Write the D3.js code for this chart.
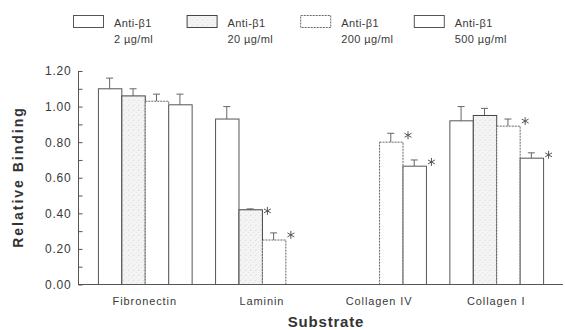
<!DOCTYPE html>
<html>
<head>
<meta charset="utf-8">
<script src="https://cdn.jsdelivr.net/npm/d3@7"></script>
<style>
  body { margin: 0; background: #fff; }
  svg { font-family: "Liberation Sans", Arial, sans-serif; }
</style>
</head>
<body>
<svg id="chart" width="565" height="330"></svg>
<script>
// substrates on the x axis
const categories = ['Fibronectin', 'Laminin', 'Collagen IV', 'Collagen I'];
// antibody doses (legend)
const doses = ['2 µg/ml', '20 µg/ml', '200 µg/ml', '500 µg/ml'];
// relative binding per dose, one entry per substrate (null = not measured)
const dose2 = [1.10, 0.93, null, 0.92];
const dose20 = [1.06, 0.42, null, 0.95];
const dose200 = [1.03, 0.25, 0.80, 0.89];
const dose500 = [1.01, null, 0.665, 0.71];
// upper error bars
const err2 = [0.06, 0.07, null, 0.08];
const err20 = [0.04, 0.005, null, 0.04];
const err200 = [0.04, 0.04, 0.05, 0.04];
const err500 = [0.06, null, 0.035, 0.03];
// significance asterisks
const sig2 = [false, false, false, false];
const sig20 = [false, true, false, false];
const sig200 = [false, true, true, true];
const sig500 = [false, false, true, true];
const yTicks = [0, 0.1, 0.2, 0.3, 0.4, 0.5, 0.6, 0.7, 0.8, 0.9, 1.0, 1.1, 1.2];

const seriesValues = [dose2, dose20, dose200, dose500];
const seriesErr = [err2, err20, err200, err500];
const seriesSig = [sig2, sig20, sig200, sig500];

const svg = d3.select('#chart');
const textColor = '#3a3a3a';
const lineColor = '#555';

// light grain for the 20 µg/ml bars
const defs = svg.append('defs');
const pat = defs.append('pattern')
  .attr('id', 'stipple')
  .attr('width', 5).attr('height', 5)
  .attr('patternUnits', 'userSpaceOnUse');
pat.append('rect').attr('width', 5).attr('height', 5).attr('fill', '#f4f4f4');
pat.append('rect').attr('x', 0).attr('y', 0).attr('width', 1).attr('height', 1).attr('fill', '#dadada');
pat.append('rect').attr('x', 3).attr('y', 2).attr('width', 1).attr('height', 1).attr('fill', '#e2e2e2');
pat.append('rect').attr('x', 1).attr('y', 4).attr('width', 1).attr('height', 1).attr('fill', '#e6e6e6');

const barStyles = [
  { fill: '#fff', stroke: '#555', dash: null },
  { fill: 'url(#stipple)', stroke: '#444', dash: null },
  { fill: '#fff', stroke: '#666', dash: '2,1' },
  { fill: '#fff', stroke: '#555', dash: null }
];

const x0 = d3.scaleBand()
  .domain(categories)
  .range([78, 563])
  .paddingInner(0.2)
  .paddingOuter(0.17);

const x1 = d3.scaleBand()
  .domain(d3.range(doses.length))
  .range([0, x0.bandwidth()]);

const y = d3.scaleLinear()
  .domain([0, 1.2])
  .range([284.5, 71]);

// y axis with inward ticks
const yAxis = d3.axisLeft(y)
  .tickValues(yTicks)
  .tickSize(-4)
  .tickPadding(7)
  .tickFormat(d => (Math.round(d * 10) % 2 === 0) ? d3.format('.2f')(d) : '');

const gy = svg.append('g')
  .attr('transform', 'translate(78.5,0)')
  .call(yAxis);
gy.select('.domain').remove();
gy.append('line')
  .attr('x1', 0).attr('x2', 0)
  .attr('y1', y(1.2)).attr('y2', y(0))
  .attr('stroke', lineColor);
gy.selectAll('.tick line').attr('stroke', lineColor);
gy.selectAll('.tick text')
  .attr('fill', textColor)
  .style('font-size', '12px')
  .style('letter-spacing', '0.8px');

// bars
const groups = svg.append('g').selectAll('g')
  .data(categories)
  .join('g')
  .attr('transform', d => `translate(${x0(d)},0)`);

const cells = groups.selectAll('g.cell')
  .data((c, ci) => doses.map((dose, si) => ({
    si, v: seriesValues[si][ci], e: seriesErr[si][ci], sig: seriesSig[si][ci]
  })).filter(d => d.v !== null))
  .join('g')
  .attr('class', 'cell');

cells.append('line')
  .attr('x1', d => x1(d.si) + x1.bandwidth() / 2)
  .attr('x2', d => x1(d.si) + x1.bandwidth() / 2)
  .attr('y1', d => y(d.v))
  .attr('y2', d => y(d.v + d.e))
  .attr('stroke', '#666');
cells.append('line')
  .attr('x1', d => x1(d.si) + x1.bandwidth() / 2 - 3.5)
  .attr('x2', d => x1(d.si) + x1.bandwidth() / 2 + 3.5)
  .attr('y1', d => y(d.v + d.e))
  .attr('y2', d => y(d.v + d.e))
  .attr('stroke', '#666');

cells.append('rect')
  .attr('x', d => x1(d.si) + 0.5)
  .attr('y', d => y(d.v))
  .attr('width', x1.bandwidth())
  .attr('height', d => y(0) - y(d.v))
  .attr('fill', d => barStyles[d.si].fill)
  .attr('stroke', d => barStyles[d.si].stroke)
  .attr('stroke-dasharray', d => barStyles[d.si].dash);

cells.filter(d => d.sig)
  .append('path')
  .attr('d', d3.symbol(d3.symbolAsterisk, 44))
  .attr('transform', d => `translate(${x1(d.si) + x1.bandwidth() + 5.5},${y(d.v + d.e) + 2})`)
  .attr('fill', 'none')
  .attr('stroke', '#555')
  .attr('stroke-width', 1);

// baseline
svg.append('line')
  .attr('x1', 78).attr('x2', 563)
  .attr('y1', y(0)).attr('y2', y(0))
  .attr('stroke', lineColor);

// category labels
svg.append('g').selectAll('text')
  .data(categories)
  .join('text')
  .attr('x', d => x0(d) + x0.bandwidth() / 2)
  .attr('y', 305)
  .attr('text-anchor', 'middle')
  .attr('fill', textColor)
  .style('font-size', '11px')
  .style('letter-spacing', '0.9px')
  .text(d => d);

// axis titles
svg.append('text')
  .attr('x', 326).attr('y', 327)
  .attr('text-anchor', 'middle')
  .attr('fill', '#333')
  .style('font-size', '15px')
  .style('font-weight', 'bold')
  .style('letter-spacing', '0.8px')
  .text('Substrate');

svg.append('text')
  .attr('transform', 'translate(23,177) rotate(-90)')
  .attr('text-anchor', 'middle')
  .attr('fill', '#333')
  .style('font-size', '14px')
  .style('font-weight', 'bold')
  .style('letter-spacing', '2px')
  .text('Relative Binding');

// legend
const legend = svg.append('g').selectAll('g')
  .data(doses)
  .join('g')
  .attr('transform', (d, i) => `translate(${73 + i * 113.6},15)`);

legend.append('rect')
  .attr('x', 0.5).attr('y', 0.5)
  .attr('width', 30).attr('height', 12)
  .attr('fill', (d, i) => barStyles[i].fill)
  .attr('stroke', (d, i) => barStyles[i].stroke)
  .attr('stroke-dasharray', (d, i) => barStyles[i].dash);

legend.append('text')
  .attr('x', 41).attr('y', 12)
  .attr('fill', textColor)
  .style('font-size', '11px')
  .style('letter-spacing', '0.4px')
  .text('Anti-β1');

legend.append('text')
  .attr('x', 41).attr('y', 28)
  .attr('fill', textColor)
  .style('font-size', '11px')
  .style('letter-spacing', '0.4px')
  .text(d => d);
</script>
</body>
</html>
